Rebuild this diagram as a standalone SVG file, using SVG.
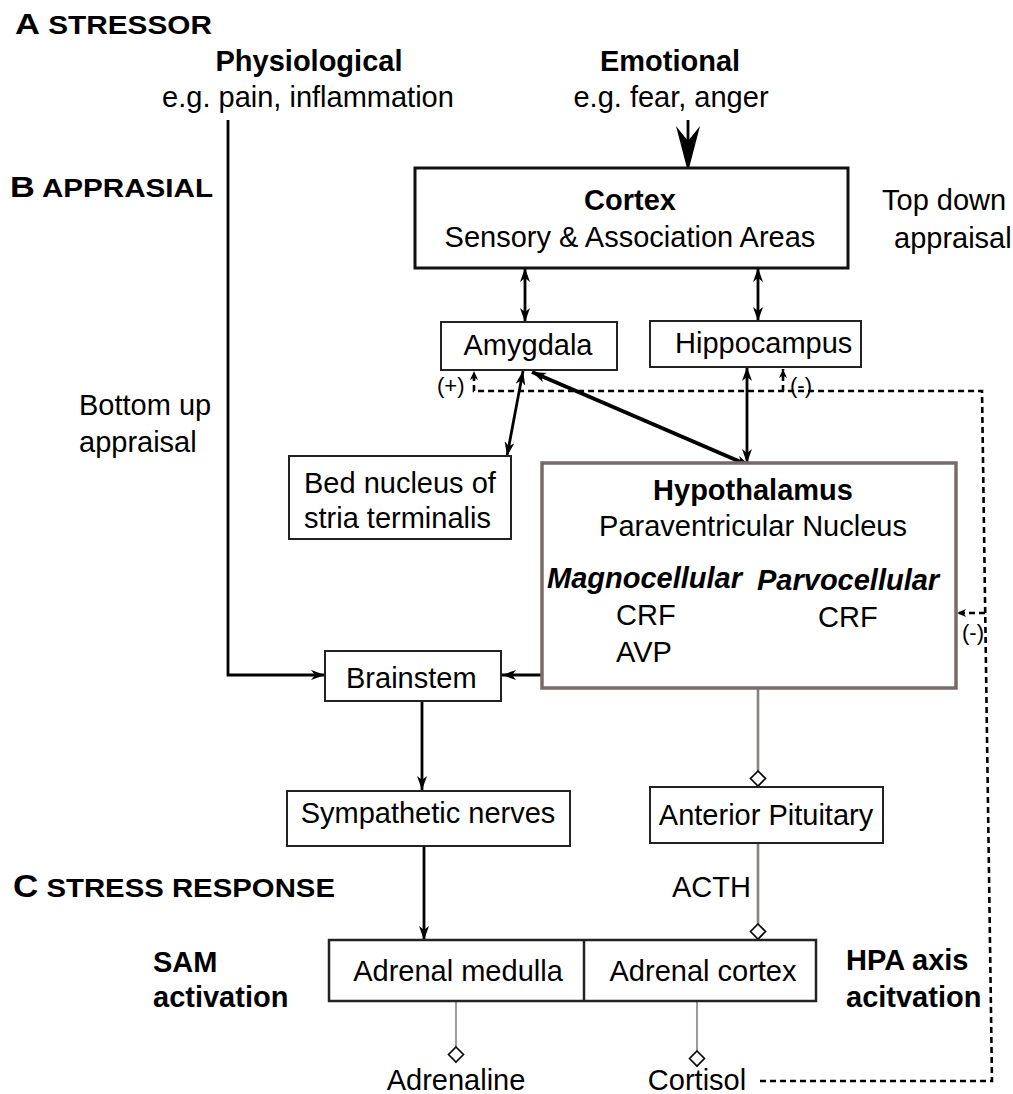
<svg xmlns="http://www.w3.org/2000/svg" width="1013" height="1094" viewBox="0 0 1013 1094">
<style>
text{font-family:"Liberation Sans",Arial,sans-serif;fill:#000}
.t{font-size:29px}
.b{font-size:29px;font-weight:bold}
.bi{font-size:29px;font-weight:bold;font-style:italic}
.s{font-size:22px}
.h{font-weight:bold}
.c{text-anchor:middle}
.box{fill:#fff;stroke:#222;stroke-width:2}
.ln{fill:none;stroke:#000;stroke-width:2.8}
.gl{fill:none;stroke:#8a8080;stroke-width:2.6}
.gt{fill:none;stroke:#8a8080;stroke-width:1.6}
.dl{fill:none;stroke:#000;stroke-width:2.6;stroke-dasharray:6 4}
</style>
<defs>
<marker id="ah" viewBox="0 0 14 10" refX="14" refY="5" markerWidth="14" markerHeight="10" orient="auto-start-reverse" markerUnits="userSpaceOnUse"><path d="M0,0 L14,5 L0,10 L4,5 z" fill="#000"/></marker>
<marker id="ahs" viewBox="0 0 9 8" refX="9" refY="4" markerWidth="9" markerHeight="8" orient="auto" markerUnits="userSpaceOnUse"><path d="M0,0 L9,4 L0,8 L2.5,4 z" fill="#000"/></marker>
<marker id="dm" viewBox="-1 -9 18 18" refX="16" refY="0" markerWidth="18" markerHeight="18" orient="auto" markerUnits="userSpaceOnUse"><path d="M0,0 L7.5,-7.5 L15,0 L7.5,7.5 z" fill="#fff" stroke="#000" stroke-width="1.6"/></marker>
</defs>
<rect width="1013" height="1094" fill="#fff"/>

<g id="headings">
<text x="15" y="34" class="h" textLength="197" lengthAdjust="spacingAndGlyphs"><tspan font-size="29">A</tspan><tspan font-size="25"> STRESSOR</tspan></text>
<text x="10" y="197" class="h" textLength="203" lengthAdjust="spacingAndGlyphs"><tspan font-size="29">B</tspan><tspan font-size="25"> APPRASIAL</tspan></text>
<text x="13" y="897" class="h" textLength="322" lengthAdjust="spacingAndGlyphs"><tspan font-size="31">C</tspan><tspan font-size="26"> STRESS RESPONSE</tspan></text>
</g>

<g id="stressors">
<text x="309" y="71" class="b c">Physiological</text>
<text x="308" y="107" class="t c">e.g. pain, inflammation</text>
<text x="670" y="71" class="b c">Emotional</text>
<text x="671" y="107" class="t c">e.g. fear, anger</text>
</g>

<g id="side-labels">
<text x="882" y="210" class="t">Top down</text>
<text x="894" y="248" class="t">appraisal</text>
<text x="79" y="415" class="t">Bottom up</text>
<text x="79" y="452" class="t">appraisal</text>
<text x="153" y="972" class="b">SAM</text>
<text x="153" y="1007" class="b">activation</text>
<text x="846" y="970" class="b">HPA axis</text>
<text x="846" y="1007" class="b">acitvation</text>
</g>

<g id="connectors">
<path class="ln" d="M228,120 V675 H325" marker-end="url(#ah)"/>
<path class="ln" d="M688,120 V150"/>
<path d="M688,172 L676,126 L688,141 L700,126 z" fill="#000"/>
<path class="ln" d="M525,268 V322" marker-start="url(#ah)" marker-end="url(#ah)"/>
<path class="ln" d="M758,268 V321" marker-start="url(#ah)" marker-end="url(#ah)"/>
<path class="ln" d="M523,371 L507,456" marker-start="url(#ah)" marker-end="url(#ah)"/>
<path class="ln" style="stroke-width:4" d="M532,372 L750,466" marker-start="url(#ah)" marker-end="url(#ah)"/>
<path class="ln" d="M747,367 V463" marker-start="url(#ah)" marker-end="url(#ah)"/>
<path class="ln" d="M542,675 H502" marker-end="url(#ah)"/>
<path class="ln" d="M422,701 V790" marker-end="url(#ah)"/>
<path class="ln" d="M424,846 V940" marker-end="url(#ah)"/>
<path class="gl" d="M758,689 V787" marker-end="url(#dm)"/>
<path class="gl" d="M758,843 V940" marker-end="url(#dm)"/>
<path class="gt" d="M456,1002 V1063" marker-end="url(#dm)"/>
<path class="gt" d="M697,1002 V1067" marker-end="url(#dm)"/>
<path class="dl" d="M760,1081 H992 L982,391 H474 V371" marker-end="url(#ahs)"/>
<path class="dl" d="M783,391 V369" marker-end="url(#ahs)"/>
<path class="dl" d="M985,613 H957" marker-end="url(#ahs)"/>
<text x="437" y="393" class="s">(+)</text>
<text x="790" y="393" class="s">(-)</text>
<text x="962" y="640" class="s">(-)</text>
<text x="672" y="897" class="t">ACTH</text>
</g>

<g id="cortex">
<rect x="415" y="168" width="433" height="100" class="box" style="stroke:#111;stroke-width:3"/>
<text x="630" y="210" class="b c">Cortex</text>
<text x="630" y="247" class="t c">Sensory &amp; Association Areas</text>
</g>

<g id="amygdala">
<rect x="441" y="322" width="176" height="48" class="box"/>
<text x="528" y="355" class="t c">Amygdala</text>
</g>

<g id="hippocampus">
<rect x="650" y="321" width="211" height="46" class="box"/>
<text x="675" y="353" class="t">Hippocampus</text>
</g>

<g id="bnst">
<rect x="289" y="456" width="222" height="83" class="box"/>
<text x="304" y="493" class="t">Bed nucleus of</text>
<text x="304" y="528" class="t">stria terminalis</text>
</g>

<g id="hypothalamus">
<rect x="542" y="463" width="414" height="225" fill="#fff" stroke="#776b69" stroke-width="3.5"/>
<text x="753" y="500" class="b c">Hypothalamus</text>
<text x="753" y="536" class="t c">Paraventricular Nucleus</text>
<text x="547" y="588" class="bi">Magnocellular</text>
<text x="757" y="590" class="bi">Parvocellular</text>
<text x="616" y="625" class="t">CRF</text>
<text x="818" y="627" class="t">CRF</text>
<text x="616" y="662" class="t">AVP</text>
</g>

<g id="brainstem">
<rect x="325" y="651" width="176" height="50" class="box"/>
<text x="346" y="688" class="t">Brainstem</text>
</g>

<g id="sympathetic">
<rect x="287" y="791" width="283" height="55" class="box"/>
<text x="428" y="823" class="t c">Sympathetic nerves</text>
</g>

<g id="pituitary">
<rect x="650" y="787" width="233" height="56" class="box"/>
<text x="766" y="825" class="t c">Anterior Pituitary</text>
</g>

<g id="adrenal">
<rect x="329" y="940" width="487" height="61" class="box" style="stroke-width:2.5"/>
<line x1="584" y1="940" x2="584" y2="1001" stroke="#222" stroke-width="2.5"/>
<text x="458" y="981" class="t c">Adrenal medulla</text>
<text x="703" y="981" class="t c">Adrenal cortex</text>
</g>

<g id="hormones">
<text x="456" y="1090" class="t c">Adrenaline</text>
<text x="697" y="1090" class="t c">Cortisol</text>
</g>
</svg>
